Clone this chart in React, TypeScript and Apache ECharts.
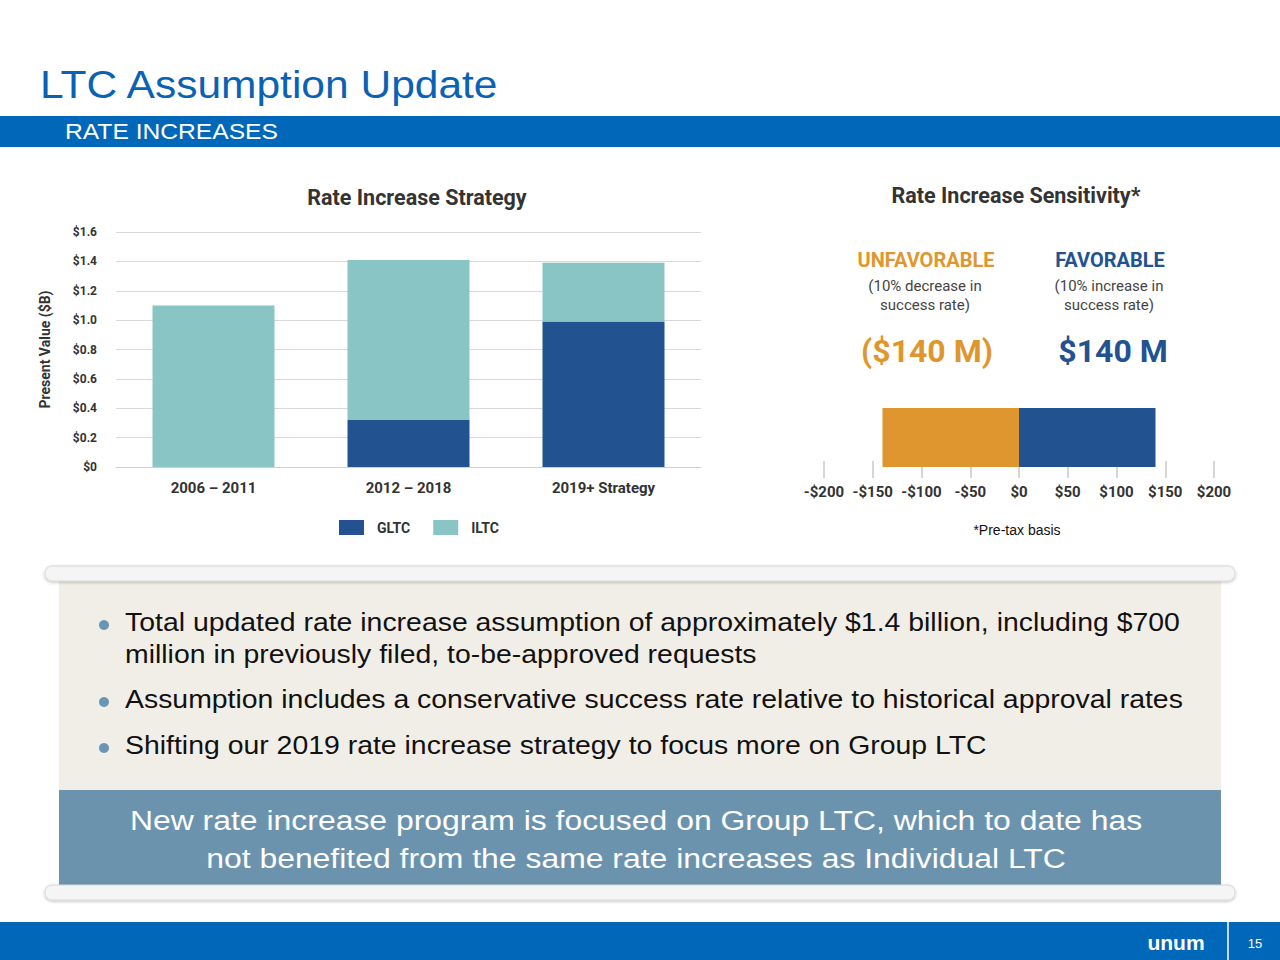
import React, { useEffect, useRef } from "react";
import * as echarts from "echarts";

// ---- Data ----
const categories = ["2006 – 2011", "2012 – 2018", "2019+ Strategy"];
const gltcValues = [0, 0.32, 0.99];
const iltcValues = [1.1, 1.09, 0.4];
const sensitivityCategory = ["Sensitivity"];
const unfavorableValues = [-140];
const favorableValues = [140];
const bullets = [
  ["Total updated rate increase assumption of approximately $1.4 billion, including $700", "million in previously filed, to-be-approved requests"],
  ["Assumption includes a conservative success rate relative to historical approval rates"],
  ["Shifting our 2019 rate increase strategy to focus more on Group LTC"],
];
const callout = [
  "New rate increase program is focused on Group LTC, which to date has",
  "not benefited from the same rate increases as Individual LTC",
];

const BLUE = "#22528F";
const TEAL = "#89C5C4";
const ORANGE = "#E0962F";
const SLIDE_BLUE = "#0067B9";
const COND = "Roboto, 'Noto Sans', sans-serif";
const ARIAL = "'Liberation Sans', Arial, sans-serif";

export default function App() {
  const ref = useRef<HTMLDivElement>(null);
  useEffect(() => {
    if (!ref.current) return;
    const chart = echarts.init(ref.current, undefined, { renderer: "svg" });

    const ctext = (x: number, y: number, text: string, font: string, fill: string, scaleX = 1, align = "center") => ({
      type: "text",
      x,
      y,
      scaleX,
      style: { text, font, fill, align, verticalAlign: "middle" },
    });

    const graphic: any[] = [
      // header
      ctext(40, 85, "LTC Assumption Update", `39px ${ARIAL}`, "#0A62B4", 1.09, "left"),
      { type: "rect", shape: { x: 0, y: 116, width: 1280, height: 31 }, style: { fill: SLIDE_BLUE } },
      ctext(65, 132, "RATE INCREASES", `21.5px ${ARIAL}`, "#fff", 1.145, "left"),
      // chart titles
      ctext(417, 197, "Rate Increase Strategy", `bold 21.5px ${COND}`, "#333"),
      ctext(1016, 195, "Rate Increase Sensitivity*", `bold 21.5px ${COND}`, "#333"),
      // sensitivity annotations
      ctext(926, 260, "UNFAVORABLE", `bold 20px ${COND}`, ORANGE),
      ctext(925, 286, "(10% decrease in", `15px ${COND}`, "#444"),
      ctext(925, 305, "success rate)", `15px ${COND}`, "#444"),
      ctext(927, 351, "($140 M)", `bold 32px ${COND}`, ORANGE),
      ctext(1110, 260, "FAVORABLE", `bold 20px ${COND}`, BLUE),
      ctext(1109, 286, "(10% increase in", `15px ${COND}`, "#444"),
      ctext(1109, 305, "success rate)", `15px ${COND}`, "#444"),
      ctext(1113, 351, "$140 M", `bold 32px ${COND}`, BLUE),
      ctext(1017, 530, "*Pre-tax basis", `14px ${ARIAL}`, "#111"),
      // scroll panel
      { type: "rect", shape: { x: 59, y: 578, width: 1162, height: 212 }, style: { fill: "#F1EEE7" } },
      { type: "rect", shape: { x: 59, y: 790, width: 1162, height: 96 }, style: { fill: "#6C93AE" } },
      { type: "rect", shape: { x: 45, y: 566, width: 1190, height: 15, r: 7 }, style: { fill: "#F5F5F5", stroke: "#D8D8D8", lineWidth: 1, shadowBlur: 3, shadowColor: "rgba(0,0,0,0.25)", shadowOffsetY: 1 } },
      { type: "rect", shape: { x: 45, y: 885, width: 1190, height: 15, r: 7 }, style: { fill: "#F5F5F5", stroke: "#D8D8D8", lineWidth: 1, shadowBlur: 3, shadowColor: "rgba(0,0,0,0.25)", shadowOffsetY: 1 } },
      // footer
      { type: "rect", shape: { x: 0, y: 922, width: 1280, height: 38 }, style: { fill: SLIDE_BLUE } },
      { type: "line", shape: { x1: 1228, y1: 922, x2: 1228, y2: 960 }, style: { stroke: "#fff", lineWidth: 1.5 } },
      ctext(1176, 942, "unum", `bold 21px ${ARIAL}`, "#fff"),
      ctext(1255, 943, "15", `13px ${ARIAL}`, "#fff"),
    ];

    const bulletY = [623, 700, 746];
    bullets.forEach((lines, i) => {
      graphic.push({ type: "circle", shape: { cx: 104, cy: bulletY[i] + 2, r: 5 }, style: { fill: "#6A95B5" } });
      lines.forEach((t, j) => {
        graphic.push(ctext(125, bulletY[i] + j * 32, t, `25px ${ARIAL}`, "#111", 1.137, "left"));
      });
    });
    callout.forEach((t, j) => {
      graphic.push(ctext(636, 820 + j * 38, t, `28px ${ARIAL}`, "#fff", 1.14));
    });

    const axisLabelCond = { fontFamily: COND, fontWeight: "bold" as const, color: "#333" };

    chart.setOption({
      animation: false,
      backgroundColor: "#fff",
      graphic,
      legend: {
        data: ["GLTC", "ILTC"],
        left: 334,
        top: 515,
        itemWidth: 25,
        itemHeight: 15,
        itemGap: 23,
        icon: "rect",
        textStyle: { fontFamily: COND, fontWeight: "bold", fontSize: 14, color: "#333", padding: [0, 0, 0, 8] },
      },
      grid: [
        { left: 116, top: 232, width: 585, height: 235 },
        { left: 824, top: 408, width: 390, height: 59 },
      ],
      xAxis: [
        {
          type: "category",
          gridIndex: 0,
          data: categories,
          axisLine: { lineStyle: { color: "#D0D0D0" } },
          axisTick: { show: false },
          axisLabel: { ...axisLabelCond, fontSize: 15, margin: 13 },
        },
        {
          type: "value",
          gridIndex: 1,
          position: "bottom",
          min: -200,
          max: 200,
          interval: 50,
          splitLine: { show: false },
          axisLine: { lineStyle: { color: "#C8C8C8", width: 1.5 } },
          axisTick: { show: true, inside: true, length: 6, lineStyle: { color: "#C8C8C8", width: 1.5 } },
          axisLabel: {
            ...axisLabelCond,
            fontSize: 15,
            margin: 17,
            formatter: (v: number) => (v < 0 ? "-$" + Math.abs(v) : "$" + v),
          },
        },
        {
          type: "value",
          gridIndex: 1,
          position: "bottom",
          min: -200,
          max: 200,
          interval: 50,
          splitLine: { show: false },
          axisLine: { show: false },
          axisTick: { show: true, length: 11, lineStyle: { color: "#C8C8C8", width: 1.5 } },
          axisLabel: { show: false },
        },
      ],
      yAxis: [
        {
          type: "value",
          gridIndex: 0,
          min: 0,
          max: 1.6,
          interval: 0.2,
          name: "Present Value ($B)",
          nameLocation: "middle",
          nameGap: 64,
          nameTextStyle: { fontFamily: COND, fontWeight: "bold", fontSize: 14, color: "#333" },
          splitLine: { lineStyle: { color: "#D9D9D9" } },
          axisLine: { show: false },
          axisTick: { show: false },
          axisLabel: {
            ...axisLabelCond,
            fontSize: 12,
            margin: 19,
            formatter: (v: number) => (v === 0 ? "$0" : "$" + v.toFixed(1)),
          },
        },
        {
          type: "category",
          gridIndex: 1,
          data: sensitivityCategory,
          show: false,
        },
      ],
      series: [
        { name: "GLTC", type: "bar", stack: "pv", xAxisIndex: 0, yAxisIndex: 0, data: gltcValues, barWidth: 122, itemStyle: { color: BLUE } },
        { name: "ILTC", type: "bar", stack: "pv", xAxisIndex: 0, yAxisIndex: 0, data: iltcValues, barWidth: 122, itemStyle: { color: TEAL } },
        { name: "Unfavorable", type: "bar", xAxisIndex: 1, yAxisIndex: 1, data: unfavorableValues, barWidth: 59, barGap: "-100%", itemStyle: { color: ORANGE } },
        { name: "Favorable", type: "bar", xAxisIndex: 1, yAxisIndex: 1, data: favorableValues, barWidth: 59, barGap: "-100%", itemStyle: { color: BLUE } },
      ],
    });
    return () => chart.dispose();
  }, []);

  return <div ref={ref} style={{ position: "absolute", left: 0, top: 0, width: 1280, height: 960 }} />;
}
